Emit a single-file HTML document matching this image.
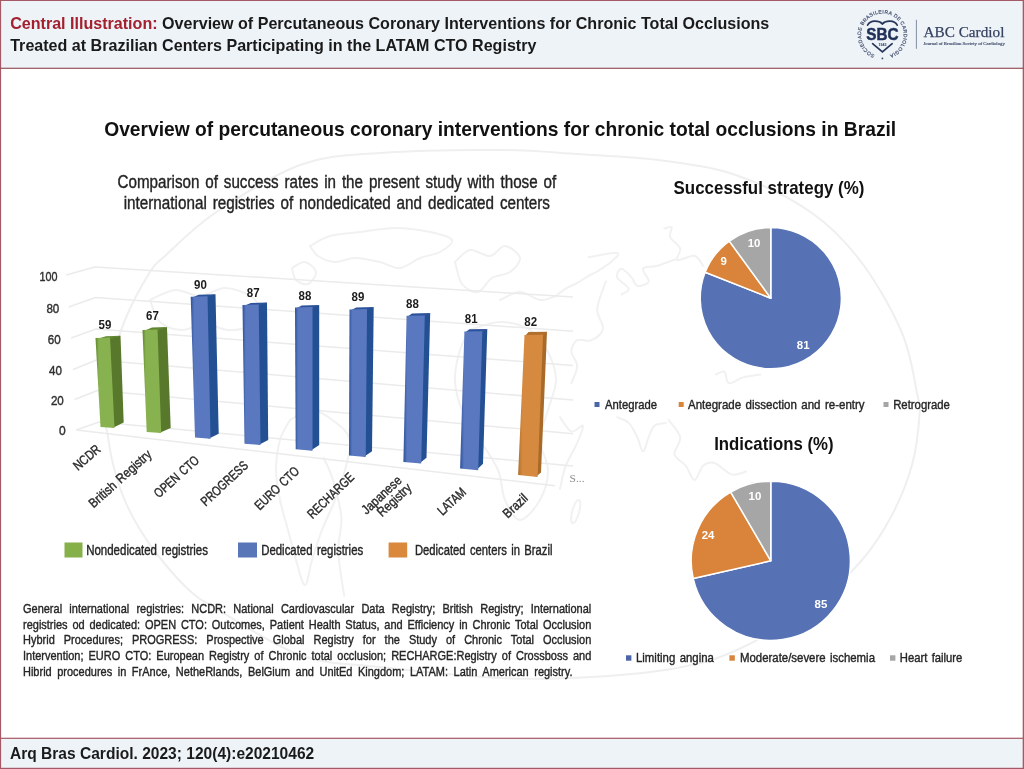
<!DOCTYPE html>
<html>
<head>
<meta charset="utf-8">
<title>Central Illustration</title>
<style>
html,body{margin:0;padding:0;background:#fff;}
body{width:1024px;height:769px;position:relative;overflow:hidden;font-family:"Liberation Sans",sans-serif;}
#wrap{position:absolute;left:0;top:0;width:1024px;height:769px;filter:blur(0.35px);}
svg{position:absolute;left:0;top:0;}
svg text{font-family:"Liberation Sans",sans-serif;}
.b{font-weight:bold;}
.c{word-spacing:0.11em;stroke:#2a2a2a;stroke-width:0.4px;}
.serif{font-family:"Liberation Serif",serif !important;}
#note{position:absolute;left:23.2px;top:601.0px;color:#262626;-webkit-text-stroke:0.4px #262626;font-size:13px;line-height:15.7px;}
#note div{width:672.5px;transform:scaleX(0.845);transform-origin:0 0;text-align:justify;text-align-last:justify;white-space:nowrap;height:15.7px;}
#note div.last{width:650.3px;}
</style>
</head>
<body>
<div id="wrap">
<svg width="1024" height="769" viewBox="0 0 1024 769">
<rect x="0" y="0" width="1024" height="769" fill="#ffffff"/>
<rect x="0" y="0" width="1024" height="68" fill="#eef3f8"/>
<rect x="0" y="739" width="1024" height="30" fill="#eef3f8"/>

<g id="wm" fill="none" stroke="#efefef" stroke-width="2" stroke-linecap="round">
<path d="M 104 410 C 104.0 399.7 104.5 390.0 108 375 C 111.5 360.0 118.0 337.2 125 320 C 132.0 302.8 143.3 282.7 150 272 C 156.7 261.3 154.2 265.8 165 256 C 175.8 246.2 192.5 228.2 215 213 C 237.5 197.8 272.5 175.0 300 165 C 327.5 155.0 346.7 155.5 380 153 C 413.3 150.5 467.2 149.8 500 150 C 532.8 150.2 550.0 152.2 577 154 C 604.0 155.8 635.3 156.9 662 160.5 C 688.7 164.1 712.0 166.8 737 175.5 C 762.0 184.2 791.2 198.4 812 213 C 832.8 227.6 847.0 243.0 862 263 C 877.0 283.0 892.8 311.3 902 333 C 911.2 354.7 914.1 379.3 917 393 C 919.9 406.7 920.3 403.0 919.5 415 C 918.7 427.0 916.6 448.3 912 465 C 907.4 481.7 900.3 499.2 892 515 C 883.7 530.8 875.3 544.7 862 560 C 848.7 575.3 832.8 592.0 812 607 C 791.2 622.0 759.5 639.8 737 650 C 714.5 660.2 701.2 663.5 677 668 C 652.8 672.5 621.5 675.3 592 677 C 562.5 678.7 535.3 679.7 500 678 C 464.7 676.3 413.3 670.8 380 667 C 346.7 663.2 327.5 664.8 300 655 C 272.5 645.2 233.5 618.8 215 608 C 196.5 597.2 198.2 598.3 189 590 C 179.8 581.7 168.3 568.3 160 558 C 151.7 547.7 145.2 538.3 139 528 C 132.8 517.7 127.3 506.7 123 496 C 118.7 485.3 115.5 473.8 113 464 C 110.5 454.2 109.5 446.0 108 437 C 106.5 428.0 104.0 420.3 104 410 Z"/>
<path d="M 588.6 257.2 C 593.4 256.5 613.4 252.2 617.2 252.9 C 621.0 253.6 614.8 258.4 611.5 261.5 C 608.2 264.6 601.0 269.1 597.2 271.5 C 593.4 273.9 591.9 273.9 588.6 275.8 C 585.3 277.7 581.0 280.9 577.2 283 C 573.4 285.1 569.2 286.5 565.7 288.7 C 562.2 290.9 557.6 294.8 556 296" stroke="#f1f1f1"/>
<path d="M 605.8 281.5 C 604.4 286.0 597.7 300.8 597.2 308.7 C 596.7 316.6 603.9 323.6 602.9 328.8 C 601.9 334.1 595.8 338.3 591.5 340.2 C 587.2 342.1 580.6 338.3 577.2 340.2 C 573.9 342.1 571.4 347.3 571.4 351.6 C 571.4 355.9 577.2 360.8 577.2 366 C 577.2 371.2 572.4 380.2 571.4 383.1" stroke="#f1f1f1"/>
<path d="M 664.4 228.6 C 665.6 228.4 670.6 225.8 671.6 227.2 C 672.6 228.6 668.8 233.6 670.2 237.2 C 671.6 240.8 679.0 244.8 680.2 248.6 C 681.4 252.4 674.9 258.9 677.3 260.1 C 679.7 261.3 690.2 254.9 694.5 255.8 C 698.8 256.8 701.6 264.1 703 265.8" stroke="#f1f1f1"/>
<path d="M 677.3 258.7 C 674.0 259.9 663.0 264.1 657.3 265.8 C 651.6 267.5 644.4 266.1 643 268.7 C 641.6 271.3 649.7 278.6 648.7 281.5 C 647.8 284.4 640.2 286.5 637.3 285.8 C 634.4 285.1 634.1 280.2 631.5 277.3 C 628.9 274.4 623.9 268.7 621.5 268.7 C 619.1 268.7 616.0 274.0 617.2 277.3 C 618.4 280.6 628.0 285.9 628.7 288.7 C 629.4 291.5 622.7 293.4 621.5 294.4" stroke="#f1f1f1"/>
<path d="M 716 374.5 C 717.4 374.0 722.4 370.3 724.5 371.7 C 726.6 373.1 725.7 382.2 728.8 383.1 C 731.9 384.1 737.9 378.8 743.1 377.4 C 748.4 376.0 757.4 375.0 760.3 374.5" stroke="#f1f1f1"/>
<path d="M 617.2 417.2 C 619.1 418.1 625.4 419.6 628.7 422.9 C 632.1 426.2 634.9 432.4 637.3 437.2 C 639.7 442.0 641.1 451.5 643 451.5 C 644.9 451.5 646.8 441.5 648.7 437.2 C 650.6 432.9 651.5 428.2 654.4 425.8 C 657.3 423.4 664.0 423.4 665.9 422.9" stroke="#f1f1f1"/>
<path d="M 668.7 420.1 C 670.6 423.0 679.2 431.5 680.2 437.2 C 681.2 442.9 673.5 449.6 674.5 454.4 C 675.5 459.2 682.6 461.5 685.9 465.8 C 689.2 470.1 691.6 480.1 694.5 480.1 C 697.4 480.1 699.8 468.7 703.1 465.8 C 706.4 462.9 709.7 461.6 714.5 463 C 719.3 464.4 726.5 473.0 731.7 474.4 C 737.0 475.8 743.6 472.1 746 471.6" stroke="#f1f1f1"/>
<path d="M 560 417.2 C 561.9 419.6 567.6 430.1 571.4 431.5 C 575.2 432.9 581.9 423.9 582.9 425.8 C 583.9 427.7 580.1 436.3 577.2 443 C 574.3 449.7 568.6 458.2 565.7 465.8 C 562.8 473.4 561.0 484.9 560 488.7" stroke="#f1f1f1"/>
<path d="M 323.7 458 C 325.2 461.4 329.6 468.8 332.5 478.6 C 335.4 488.4 340.3 504.5 341.3 516.7 C 342.3 528.9 337.8 538.6 338.3 551.8 C 338.8 565.0 343.2 588.5 344.2 595.8" stroke="#f1f1f1"/>
<path d="M 310 246 C 313.3 244.3 321.7 238.3 330 236 C 338.3 233.7 349.2 233.3 360 232 C 370.8 230.7 383.3 228.0 395 228 C 406.7 228.0 420.5 230.0 430 232 C 439.5 234.0 450.3 236.7 452 240 C 453.7 243.3 445.3 249.0 440 252 C 434.7 255.0 426.7 255.3 420 258 C 413.3 260.7 406.7 267.3 400 268 C 393.3 268.7 387.5 263.7 380 262 C 372.5 260.3 362.5 258.0 355 258 C 347.5 258.0 341.2 262.3 335 262 C 328.8 261.7 322.2 258.7 318 256 C 313.8 253.3 311.3 247.7 310 246" stroke="#f1f1f1"/>
<path d="M 150 300 C 154.2 298.3 166.7 290.7 175 290 C 183.3 289.3 191.7 296.3 200 296 C 208.3 295.7 216.7 288.0 225 288 C 233.3 288.0 243.8 292.0 250 296 C 256.2 300.0 262.0 307.0 262 312 C 262.0 317.0 255.7 323.0 250 326 C 244.3 329.0 235.5 330.3 228 330 C 220.5 329.7 212.7 324.0 205 324 C 197.3 324.0 189.5 330.3 182 330 C 174.5 329.7 165.3 327.0 160 322 C 154.7 317.0 151.7 303.7 150 300" stroke="#f1f1f1"/>
<path d="M 292 268 C 294.2 267.0 301.0 261.3 305 262 C 309.0 262.7 315.5 268.3 316 272 C 316.5 275.7 311.3 282.7 308 284 C 304.7 285.3 298.7 282.7 296 280 C 293.3 277.3 292.7 270.0 292 268" stroke="#f1f1f1"/>
<path d="M 455 262 C 457.5 260.0 464.2 251.0 470 250 C 475.8 249.0 484.2 256.7 490 256 C 495.8 255.3 500.0 245.7 505 246 C 510.0 246.3 519.2 253.7 520 258 C 520.8 262.3 514.7 268.7 510 272 C 505.3 275.3 497.3 274.7 492 278 C 486.7 281.3 483.0 291.0 478 292 C 473.0 293.0 465.8 289.0 462 284 C 458.2 279.0 456.2 265.7 455 262" stroke="#f1f1f1"/>
<path d="M 500 300 C 503.3 298.7 513.3 292.0 520 292 C 526.7 292.0 534.0 299.3 540 300 C 546.0 300.7 553.3 296.7 556 296" stroke="#f1f1f1"/>
<path d="M 470 330 C 475.0 328.7 490.0 322.0 500 322 C 510.0 322.0 522.0 325.0 530 330 C 538.0 335.0 543.7 343.7 548 352 C 552.3 360.3 556.0 370.3 556 380 C 556.0 389.7 550.7 400.0 548 410 C 545.3 420.0 540.0 430.0 540 440 C 540.0 450.0 548.0 460.0 548 470 C 548.0 480.0 544.7 491.7 540 500 C 535.3 508.3 525.8 520.0 520 520 C 514.2 520.0 508.7 508.3 505 500 C 501.3 491.7 502.2 480.0 498 470 C 493.8 460.0 486.0 450.0 480 440 C 474.0 430.0 466.2 420.0 462 410 C 457.8 400.0 455.3 390.0 455 380 C 454.7 370.0 457.5 358.3 460 350 C 462.5 341.7 468.3 333.3 470 330" stroke="#f1f1f1"/>
<path d="M 290 420 C 293.7 418.3 304.5 409.7 312 410 C 319.5 410.3 328.7 417.0 335 422 C 341.3 427.0 348.3 432.0 350 440 C 351.7 448.0 347.5 460.0 345 470 C 342.5 480.0 338.8 490.0 335 500 C 331.2 510.0 325.8 520.0 322 530 C 318.2 540.0 314.8 550.8 312 560 C 309.2 569.2 307.7 585.0 305 585 C 302.3 585.0 298.8 569.2 296 560 C 293.2 550.8 290.7 540.0 288 530 C 285.3 520.0 282.0 510.0 280 500 C 278.0 490.0 276.0 480.0 276 470 C 276.0 460.0 277.7 448.3 280 440 C 282.3 431.7 288.3 423.3 290 420" stroke="#f1f1f1"/>
<ellipse cx="575.7" cy="511.6" rx="3.5" ry="12" transform="rotate(15 575.7 511.6)" stroke="#f1f1f1"/>
</g>
<g fill="#a55865">
<rect x="0" y="0" width="1024" height="1"/>
<rect x="0" y="767.8" width="1024" height="1.2"/>
<rect x="0" y="0" width="1.1" height="769"/>
<rect x="1022.7" y="0" width="1.3" height="769"/>
<rect x="0" y="67.7" width="1024" height="1.2" fill="#96545e"/>
<rect x="0" y="737.7" width="1024" height="1.2" fill="#a55865"/>
</g>
<g class="b" font-size="16.08" fill="#1a1a1a">
<text x="10.2" y="29.4"><tspan fill="#a3202e">Central Illustration:</tspan> Overview of Percutaneous Coronary Interventions for Chronic Total Occlusions</text>
<text x="10.2" y="50.5">Treated at Brazilian Centers Participating in the LATAM CTO Registry</text>
</g>
<g id="logo" fill="#2b3a5c">
<defs><path id="circ" d="M 874.77 54.69 A 21.3 21.3 0 1 1 890.03 54.69"/></defs>
<text font-size="5.0" fill="#465270" stroke="#465270" stroke-width="0.2" textLength="118.2" lengthAdjust="spacing"><textPath href="#circ" startOffset="0" textLength="118.2" lengthAdjust="spacing">SOCIEDADE BRASILEIRA DE CARDIOLOGIA</textPath></text>
<circle cx="882.4" cy="58.4" r="0.9" fill="#3a4666"/>
<path d="M 882.4 23.799999999999997 C 878.9 20.4 870.4 19.799999999999997 867.6 25.199999999999996" fill="none" stroke="#27365a" stroke-width="1.7" stroke-linecap="round"/>
<path d="M 882.4 23.799999999999997 C 885.9 20.4 894.4 19.799999999999997 897.1999999999999 25.199999999999996" fill="none" stroke="#27365a" stroke-width="1.7" stroke-linecap="round"/>
<path d="M 872.6 43.699999999999996 L 882.4 51.8 L 892.1999999999999 43.699999999999996" fill="none" stroke="#27365a" stroke-width="1.7" stroke-linejoin="miter" stroke-linecap="round"/>
<text class="b" x="882.4" y="39.9" font-size="16.6" fill="#1f3058" text-anchor="middle" textLength="32.2" lengthAdjust="spacingAndGlyphs" stroke="#1f3058" stroke-width="0.5">SBC</text>
<text class="b" x="882.4" y="46.0" font-size="3.6" fill="#24365e" text-anchor="middle">1943</text>
<line x1="916.4" y1="19.8" x2="916.4" y2="48.8" stroke="#66728c" stroke-width="0.8"/>
<text class="serif" x="923.6" y="36.9" font-size="15.6" fill="#364260" stroke="#364260" stroke-width="0.25" textLength="80.8" lengthAdjust="spacingAndGlyphs">ABC Cardiol</text>
<text class="serif" x="923.4" y="44.6" font-size="4.2" fill="#465270" stroke="#465270" stroke-width="0.15" textLength="81.5" lengthAdjust="spacingAndGlyphs">Journal of Brazilian Society of Cardiology</text>
</g>
<text class="b" x="104.2" y="135.8" font-size="20.5" fill="#111" textLength="792" lengthAdjust="spacingAndGlyphs">Overview of percutaneous coronary interventions for chronic total occlusions in Brazil</text>
<text class="c" x="117.5" y="188.4" font-size="17.5" fill="#222" textLength="438.7" lengthAdjust="spacingAndGlyphs">Comparison of success rates in the present study with those of</text>
<text class="c" x="123.7" y="209.1" font-size="17.5" fill="#222" textLength="426.3" lengthAdjust="spacingAndGlyphs">international registries of nondedicated and dedicated centers</text>
<text class="b" x="673.6" y="194.0" font-size="17.7" fill="#111" textLength="190.8" lengthAdjust="spacingAndGlyphs">Successful strategy (%)</text>
<text class="b" x="714.2" y="449.7" font-size="17.7" fill="#111" textLength="119.3" lengthAdjust="spacingAndGlyphs">Indications (%)</text>
<g id="chart">
<g fill="none" stroke="#ebebeb" stroke-width="1.5" stroke-linejoin="round">
<path d="M 66.2 275 L 95 267 L 573 297"/>
<path d="M 68.7 307 L 95.5 297.5 L 573 331.3"/>
<path d="M 71.2 338 L 96 329 L 573 365.4"/>
<path d="M 73 369.5 L 96.5 360 L 573 400"/>
<path d="M 74.5 399.5 L 97.5 390.5 L 573 433.7"/>
<path d="M 76.2 430 L 99 422 L 573 466"/>
<path d="M 76.2 430 L 555 485.7"/>
</g>
<text class="c" x="57.6" y="280.6" font-size="13.2" fill="#333" text-anchor="end" textLength="18.0" lengthAdjust="spacingAndGlyphs">100</text>
<text class="c" x="59.3" y="312.6" font-size="13.2" fill="#333" text-anchor="end" textLength="12.9" lengthAdjust="spacingAndGlyphs">80</text>
<text class="c" x="60.6" y="344.0" font-size="13.2" fill="#333" text-anchor="end" textLength="12.9" lengthAdjust="spacingAndGlyphs">60</text>
<text class="c" x="62.0" y="375.3" font-size="13.2" fill="#333" text-anchor="end" textLength="12.9" lengthAdjust="spacingAndGlyphs">40</text>
<text class="c" x="63.8" y="405.3" font-size="13.2" fill="#333" text-anchor="end" textLength="12.9" lengthAdjust="spacingAndGlyphs">20</text>
<text class="c" x="65.6" y="435.1" font-size="13.2" fill="#333" text-anchor="end" textLength="6.7" lengthAdjust="spacingAndGlyphs">0</text>
<defs>
<linearGradient id="fg" x1="0" x2="1" y1="0" y2="0"><stop offset="0" stop-color="#608630"/><stop offset="0.18" stop-color="#88b250"/><stop offset="1" stop-color="#88b250"/></linearGradient>
<linearGradient id="fb" x1="0" x2="1" y1="0" y2="0"><stop offset="0" stop-color="#2c529a"/><stop offset="0.18" stop-color="#5a78c0"/><stop offset="1" stop-color="#5a78c0"/></linearGradient>
<linearGradient id="fo" x1="0" x2="1" y1="0" y2="0"><stop offset="0" stop-color="#b06f2a"/><stop offset="0.18" stop-color="#d68a40"/><stop offset="1" stop-color="#d68a40"/></linearGradient>
</defs>
<polygon points="108.0,337.5 120.5,335.7 123.7,422.5 112.5,428.0" fill="#58792c"/>
<polygon points="95.5,339.5 110.0,339.0 120.5,335.7 106.0,336.2" fill="#608630"/>
<polygon points="95.5,338.0 110.0,337.5 114.5,428.0 100.5,427.0" fill="url(#fg)"/>
<text class="b" x="105" y="328.7" font-size="12.4" fill="#1c1c1c" text-anchor="middle" textLength="12.8" lengthAdjust="spacingAndGlyphs">59</text>
<polygon points="155.5,329.5 167.0,327.0 170.7,428.0 159.2,433.0" fill="#58792c"/>
<polygon points="142.5,331.5 157.5,331.0 167.0,327.0 152.0,327.5" fill="#608630"/>
<polygon points="142.5,330.0 157.5,329.5 161.2,433.0 146.7,432.0" fill="url(#fg)"/>
<text class="b" x="152.5" y="320" font-size="12.4" fill="#1c1c1c" text-anchor="middle" textLength="12.8" lengthAdjust="spacingAndGlyphs">67</text>
<polygon points="205.5,296.2 215.5,294.2 218.7,433.7 208.5,438.7" fill="#235092"/>
<polygon points="190.7,298.2 207.5,297.7 215.5,294.2 198.7,294.7" fill="#2c529a"/>
<polygon points="190.7,296.7 207.5,296.2 210.5,438.7 195.0,437.5" fill="url(#fb)"/>
<text class="b" x="200.5" y="288.7" font-size="12.4" fill="#1c1c1c" text-anchor="middle" textLength="12.8" lengthAdjust="spacingAndGlyphs">90</text>
<polygon points="256.7,304.5 267.0,302.5 268.2,440.0 258.5,445.0" fill="#235092"/>
<polygon points="242.5,306.5 258.7,306.0 267.0,302.5 250.8,303.0" fill="#2c529a"/>
<polygon points="242.5,305.0 258.7,304.5 260.5,445.0 244.5,443.7" fill="url(#fb)"/>
<text class="b" x="253.2" y="296.5" font-size="12.4" fill="#1c1c1c" text-anchor="middle" textLength="12.8" lengthAdjust="spacingAndGlyphs">87</text>
<polygon points="310.5,307.0 319.2,305.0 319.2,445.0 310.5,450.7" fill="#235092"/>
<polygon points="295.0,309.0 312.5,308.5 319.2,305.0 301.7,305.5" fill="#2c529a"/>
<polygon points="295.0,307.5 312.5,307.0 312.5,450.7 295.7,449.2" fill="url(#fb)"/>
<text class="b" x="305" y="299.5" font-size="12.4" fill="#1c1c1c" text-anchor="middle" textLength="12.8" lengthAdjust="spacingAndGlyphs">88</text>
<polygon points="365.0,309.0 373.7,307.0 372.0,451.2 363.7,457.0" fill="#235092"/>
<polygon points="349.5,311.0 367.0,310.5 373.7,307.0 356.2,307.5" fill="#2c529a"/>
<polygon points="349.5,309.5 367.0,309.0 365.7,457.0 349.0,455.5" fill="url(#fb)"/>
<text class="b" x="358" y="301.2" font-size="12.4" fill="#1c1c1c" text-anchor="middle" textLength="12.8" lengthAdjust="spacingAndGlyphs">89</text>
<polygon points="422.8,315.4 430.2,313.0 426.5,457.8 419.2,463.6" fill="#235092"/>
<polygon points="406.6,317.3 424.8,316.9 430.2,313.0 412.0,313.4" fill="#2c529a"/>
<polygon points="406.6,315.8 424.8,315.4 421.2,463.6 403.4,462.0" fill="url(#fb)"/>
<text class="b" x="412.5" y="307.5" font-size="12.4" fill="#1c1c1c" text-anchor="middle" textLength="12.8" lengthAdjust="spacingAndGlyphs">88</text>
<polygon points="480.3,331.3 487.3,329.0 483.0,463.8 476.2,470.2" fill="#235092"/>
<polygon points="464.4,333.0 482.3,332.8 487.3,329.0 469.4,329.2" fill="#2c529a"/>
<polygon points="464.4,331.5 482.3,331.3 478.2,470.2 460.1,468.4" fill="url(#fb)"/>
<text class="b" x="471.2" y="323" font-size="12.4" fill="#1c1c1c" text-anchor="middle" textLength="12.8" lengthAdjust="spacingAndGlyphs">81</text>
<polygon points="541.0,334.8 547.0,331.8 541.0,472.5 535.6,477.0" fill="#a86a28"/>
<polygon points="524.5,336.5 543.0,336.3 547.0,331.8 528.5,332.0" fill="#b06f2a"/>
<polygon points="524.5,335.0 543.0,334.8 537.6,477.0 518.1,475.0" fill="url(#fo)"/>
<text class="b" x="530.7" y="326.2" font-size="12.4" fill="#1c1c1c" text-anchor="middle" textLength="12.8" lengthAdjust="spacingAndGlyphs">82</text>
<text transform="translate(101.5,450.5) rotate(-41) scale(0.82,1)" text-anchor="end" font-size="13.2" fill="#2a2a2a" class="c">NCDR</text>
<text transform="translate(152.5,455.5) rotate(-42) scale(0.88,1)" text-anchor="end" font-size="13.2" fill="#2a2a2a" class="c">British Registry</text>
<text transform="translate(200,461.5) rotate(-42) scale(0.79,1)" text-anchor="end" font-size="13.2" fill="#2a2a2a" class="c">OPEN CTO</text>
<text transform="translate(249,466.5) rotate(-43) scale(0.79,1)" text-anchor="end" font-size="13.2" fill="#2a2a2a" class="c">PROGRESS</text>
<text transform="translate(300,472) rotate(-44) scale(0.79,1)" text-anchor="end" font-size="13.2" fill="#2a2a2a" class="c">EURO CTO</text>
<text transform="translate(355,478.2) rotate(-44) scale(0.79,1)" text-anchor="end" font-size="13.2" fill="#2a2a2a" class="c">RECHARGE</text>
<text transform="translate(402.5,481.5) rotate(-43) scale(0.86,1)" text-anchor="end" font-size="13.2" fill="#2a2a2a" class="c">Japanese</text>
<text transform="translate(412.5,489) rotate(-43) scale(0.86,1)" text-anchor="end" font-size="13.2" fill="#2a2a2a" class="c">Registry</text>
<text transform="translate(467,493.2) rotate(-43) scale(0.8,1)" text-anchor="end" font-size="13.2" fill="#2a2a2a" class="c">LATAM</text>
<text transform="translate(528.6,499.4) rotate(-43) scale(0.86,1)" text-anchor="end" font-size="13.2" fill="#2a2a2a" class="c">Brazil</text>
<text class="serif" x="569.6" y="481.6" font-size="10.5" fill="#8c8c8c" textLength="15" lengthAdjust="spacingAndGlyphs">S...</text>
<rect x="64.5" y="542.5" width="18" height="15" fill="#86b04a"/>
<text class="c" x="86.2" y="555" font-size="13.8" fill="#222" textLength="121.8" lengthAdjust="spacingAndGlyphs">Nondedicated registries</text>
<rect x="238" y="542.5" width="19" height="15" fill="#5876b8"/>
<text class="c" x="261.2" y="555" font-size="13.8" fill="#222" textLength="102" lengthAdjust="spacingAndGlyphs">Dedicated registries</text>
<rect x="388.6" y="542.5" width="18.6" height="15" fill="#d9883c"/>
<text class="c" x="415" y="555" font-size="13.8" fill="#222" textLength="137.4" lengthAdjust="spacingAndGlyphs">Dedicated centers in Brazil</text>
</g>
<g id="pies">
<path d="M 770.8 298.2 L 770.80 227.60 A 70.6 70.6 0 1 1 705.16 272.21 Z" fill="#5672b4" stroke="#ffffff" stroke-width="1.5" stroke-linejoin="round"/>
<path d="M 770.8 298.2 L 705.16 272.21 A 70.6 70.6 0 0 1 729.30 241.08 Z" fill="#d9843a" stroke="#ffffff" stroke-width="1.5" stroke-linejoin="round"/>
<path d="M 770.8 298.2 L 729.30 241.08 A 70.6 70.6 0 0 1 770.80 227.60 Z" fill="#a6a6a6" stroke="#ffffff" stroke-width="1.5" stroke-linejoin="round"/>
<text class="b" x="754" y="247" font-size="10.4" fill="#fff" text-anchor="middle" transform="translate(754,0) scale(1.1,1) translate(-754,0)">10</text>
<text class="b" x="723.6" y="265.1" font-size="10.4" fill="#fff" text-anchor="middle" transform="translate(723.6,0) scale(1.1,1) translate(-723.6,0)">9</text>
<text class="b" x="803.2" y="348.7" font-size="10.4" fill="#fff" text-anchor="middle" transform="translate(803.2,0) scale(1.1,1) translate(-803.2,0)">81</text>
<path d="M 770.8 560.8 L 770.80 481.20 A 79.6 79.6 0 1 1 693.20 578.51 Z" fill="#5672b4" stroke="#ffffff" stroke-width="1.5" stroke-linejoin="round"/>
<path d="M 770.8 560.8 L 693.20 578.51 A 79.6 79.6 0 0 1 730.70 492.04 Z" fill="#d9843a" stroke="#ffffff" stroke-width="1.5" stroke-linejoin="round"/>
<path d="M 770.8 560.8 L 730.70 492.04 A 79.6 79.6 0 0 1 770.80 481.20 Z" fill="#a6a6a6" stroke="#ffffff" stroke-width="1.5" stroke-linejoin="round"/>
<text class="b" x="754.9" y="500.3" font-size="10.4" fill="#fff" text-anchor="middle" transform="translate(754.9,0) scale(1.1,1) translate(-754.9,0)">10</text>
<text class="b" x="708.1" y="538.6" font-size="10.4" fill="#fff" text-anchor="middle" transform="translate(708.1,0) scale(1.1,1) translate(-708.1,0)">24</text>
<text class="b" x="820.9" y="608.4" font-size="10.4" fill="#fff" text-anchor="middle" transform="translate(820.9,0) scale(1.1,1) translate(-820.9,0)">85</text>
<rect x="594.5" y="402" width="5" height="5" fill="#4a66a8"/>
<text class="c" x="605" y="409.2" font-size="13.0" fill="#222" textLength="52" lengthAdjust="spacingAndGlyphs">Antegrade</text>
<rect x="678.7" y="402" width="5" height="5" fill="#d9843a"/>
<text class="c" x="688" y="409.2" font-size="13.0" fill="#222" textLength="176.6" lengthAdjust="spacingAndGlyphs">Antegrade dissection and re-entry</text>
<rect x="883.5" y="402" width="5" height="5" fill="#a6a6a6"/>
<text class="c" x="893.2" y="409.2" font-size="13.0" fill="#222" textLength="56.7" lengthAdjust="spacingAndGlyphs">Retrograde</text>
<rect x="626" y="655.3" width="5.4" height="5.4" fill="#4a66a8"/>
<text class="c" x="636" y="662.3" font-size="13.0" fill="#222" textLength="77.9" lengthAdjust="spacingAndGlyphs">Limiting angina</text>
<rect x="729.4" y="655.3" width="5.4" height="5.4" fill="#d9843a"/>
<text class="c" x="740" y="662.3" font-size="13.0" fill="#222" textLength="135" lengthAdjust="spacingAndGlyphs">Moderate/severe ischemia</text>
<rect x="890" y="655.3" width="5.4" height="5.4" fill="#a6a6a6"/>
<text class="c" x="899.8" y="662.3" font-size="13.0" fill="#222" textLength="62.6" lengthAdjust="spacingAndGlyphs">Heart failure</text>
</g>
<text class="b" x="10" y="759.0" font-size="15.8" fill="#1a1a1a" textLength="304.2" lengthAdjust="spacingAndGlyphs">Arq Bras Cardiol. 2023; 120(4):e20210462</text>
</svg>
<div id="note">
<div>General international registries: NCDR: National Cardiovascular Data Registry; British Registry; International</div>
<div>registries od dedicated: OPEN CTO: Outcomes, Patient Health Status, and Efficiency in Chronic Total Occlusion</div>
<div>Hybrid Procedures; PROGRESS: Prospective Global Registry for the Study of Chronic Total Occlusion</div>
<div>Intervention; EURO CTO: European Registry of Chronic total occlusion; RECHARGE:Registry of Crossboss and</div>
<div class="last">Hibrid procedures in FrAnce, NetheRlands, BelGium and UnitEd Kingdom; LATAM: Latin American registry.</div>
</div>
</div>
</body>
</html>
